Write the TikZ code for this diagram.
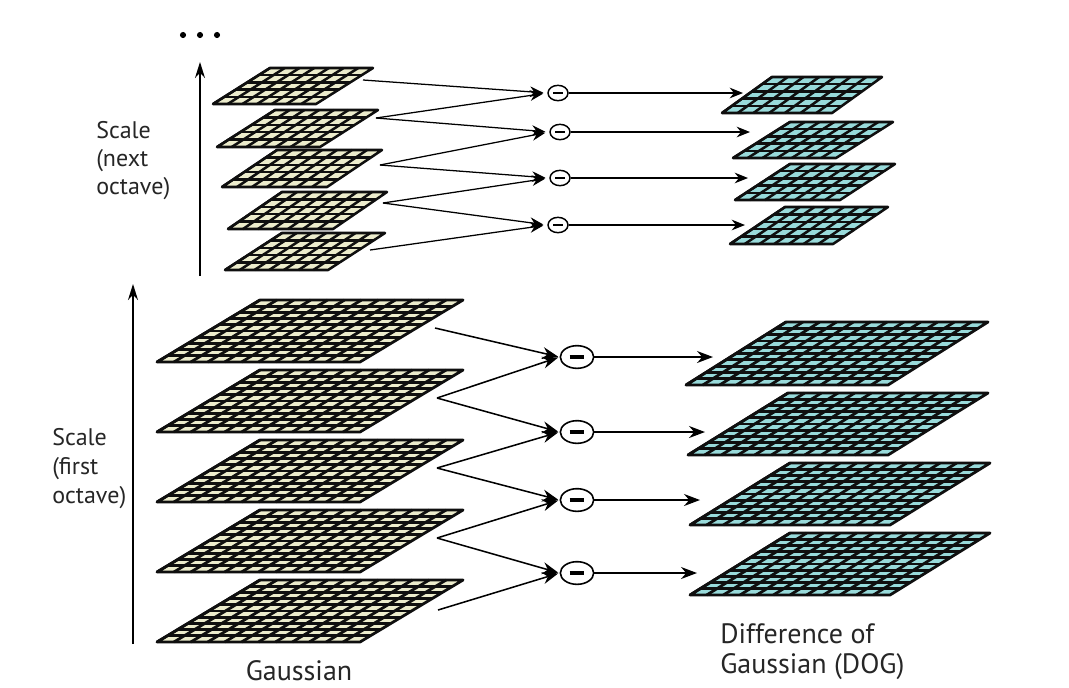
\documentclass[tikz,border=0pt]{standalone}
\usepackage{fontspec}
\setmainfont{PT Sans}
\usetikzlibrary{arrows.meta,shapes.geometric}
\definecolor{gcell}{RGB}{236,236,204}
\definecolor{dcell}{RGB}{152,218,218}
\definecolor{grid}{RGB}{15,15,15}
\newcommand\plate[9]{%
  \begin{scope}[shift={(#1,#2)}, x={(#3*0.75pt,0pt)}, y={(-#4*0.75pt,-#5*0.75pt)}]
    \fill[#8] (0,0)--(1,0)--(1,1)--(0,1)--cycle;
    \foreach \i in {1,...,#6}{\draw[grid,line width=#9] ({(\i-1)/#6},0)--({(\i-1)/#6},1);}
    \foreach \j in {1,...,#7}{\draw[grid,line width=#9] (0,{(\j-1)/#7})--(1,{(\j-1)/#7});}
    \draw[grid,line width=#9,line join=round] (0,0)--(1,0)--(1,1)--(0,1)--cycle;
  \end{scope}}
\begin{document}
\begin{tikzpicture}[x=0.75pt,y=-0.75pt,
  conn/.style={line width=1.15pt,-{Stealth[length=12pt,width=9pt]}},
  sconn/.style={line width=0.95pt,-{Stealth[length=10pt,width=8pt]}},
  flow/.style={line width=1.15pt,-{Stealth[length=12pt,width=9pt]}},
  sflow/.style={line width=0.95pt,-{Stealth[length=10pt,width=8pt]}},
  minus/.style={ellipse,draw,line width=1.2pt,fill=white,minimum width=25pt,minimum height=17pt,inner sep=0pt},
  sminus/.style={ellipse,draw,line width=1.1pt,fill=white,minimum width=15pt,minimum height=11.5pt,inner sep=0pt},
  lbl/.style={align=left,inner sep=0pt,text=black!85},
  captext/.style={inner sep=0pt,font=\fontsize{21}{22.5}\selectfont,text=black!85},
  axis/.style={line width=1.15pt,-{Stealth[length=12pt,width=7.5pt]}}]
\useasboundingbox (0,0) rectangle (1069,687);
\fill[white] (0,0) rectangle (1069,687);

% ---------- upper octave: Gaussian plates ----------
\plate{270}{68}{103}{57}{36}{7}{5}{gcell}{1.9pt}
\plate{275}{110}{103}{58}{37}{7}{5}{gcell}{1.9pt}
\plate{277}{150}{105}{55}{37}{7}{5}{gcell}{1.9pt}
\plate{282}{192}{105}{54}{37}{7}{5}{gcell}{1.9pt}
\plate{282}{233}{103}{57}{37}{7}{5}{gcell}{1.9pt}
% ---------- upper octave: DOG plates ----------
\plate{772}{77}{110}{50}{36}{7}{5}{dcell}{1.9pt}
\plate{790}{122}{103}{57}{36}{7}{5}{dcell}{1.9pt}
\plate{790}{164}{105}{55}{36}{7}{5}{dcell}{1.9pt}
\plate{785}{207}{103}{55}{37}{7}{5}{dcell}{1.9pt}
% ---------- lower octave: Gaussian plates ----------
\foreach \k in {0,...,4}{\plate{260}{300+70*\k}{203}{103}{62}{12}{10}{gcell}{2.1pt}}
% ---------- lower octave: DOG plates ----------
\plate{786}{322}{202}{100}{63}{12}{10}{dcell}{2.1pt}
\plate{788}{393}{200}{100}{62}{12}{10}{dcell}{2.1pt}
\plate{790}{463}{200}{100}{62}{12}{10}{dcell}{2.1pt}
\plate{790}{533}{200}{100}{62}{12}{10}{dcell}{2.1pt}

% ---------- connector anchors ----------
\coordinate (G1) at (363,80);
\coordinate (G2) at (376,118);
\coordinate (G3) at (380,165);
\coordinate (G4) at (383,203);
\coordinate (G5) at (370,250);
\coordinate (D1) at (743,93);
\coordinate (D2) at (750,132);
\coordinate (D3) at (748,178);
\coordinate (D4) at (745,225);
\coordinate (g1) at (435,328);
\coordinate (g2) at (437,398);
\coordinate (g3) at (437,468);
\coordinate (g4) at (437,538);
\coordinate (g5) at (438,610);
\coordinate (d1) at (713,357);
\coordinate (d2) at (705,432);
\coordinate (d3) at (700,500);
\coordinate (d4) at (697,573);

% ---------- subtraction nodes ----------
\node[sminus] (M1) at (558,93) {\rule{7pt}{1.8pt}};
\node[sminus] (M2) at (560,132) {\rule{7pt}{1.8pt}};
\node[sminus] (M3) at (560,178) {\rule{7pt}{1.8pt}};
\node[sminus] (M4) at (558,225) {\rule{7pt}{1.8pt}};
\node[minus] (m1) at (577,357) {\rule{11pt}{2.4pt}};
\node[minus] (m2) at (577,432) {\rule{11pt}{2.4pt}};
\node[minus] (m3) at (577,500) {\rule{11pt}{2.4pt}};
\node[minus] (m4) at (577,573) {\rule{11pt}{2.4pt}};

% ---------- upper connectors ----------
\foreach \a/\b in {1/1,2/1,2/2,3/2,3/3,4/3,4/4,5/4}{
  \draw[sconn,shorten >=3pt] (G\a) -- (M\b.west);}
\foreach \b in {1,...,4}{\draw[sflow] (M\b.east) -- (D\b);}
% ---------- lower connectors ----------
\foreach \a/\b in {1/1,2/1,2/2,3/2,3/3,4/3,4/4,5/4}{
  \draw[conn,shorten >=1pt] (g\a) -- (m\b.west);}
\foreach \b in {1,...,4}{\draw[flow] (m\b.east) -- (d\b);}

% ---------- scale axes ----------
\coordinate (ua0) at (200,276);
\coordinate (ua1) at (200,62);
\coordinate (la0) at (133,644);
\coordinate (la1) at (133,284);
\draw[axis] (ua0) -- (ua1);
\draw[axis] (la0) -- (la1);
\foreach \x [count=\n] in {183,200,217}{\fill (\x,35) circle (2.3pt) coordinate (dot\n);}

% ---------- labels ----------
\node[lbl,anchor=north west,font=\fontsize{18}{21}\selectfont] (lup) at (96,121) {Scale\\(next\\octave)};
\node[lbl,anchor=north west,font=\fontsize{18}{21.8}\selectfont] (llo) at (52,428) {Scale\\(first\\octave)};
\node[captext,anchor=base] (lg) at (299,680) {Gaussian};
\node[captext,anchor=north west,align=left] (ld) at (720,623) {Difference of\\Gaussian (DOG)};
\end{tikzpicture}
\end{document}
